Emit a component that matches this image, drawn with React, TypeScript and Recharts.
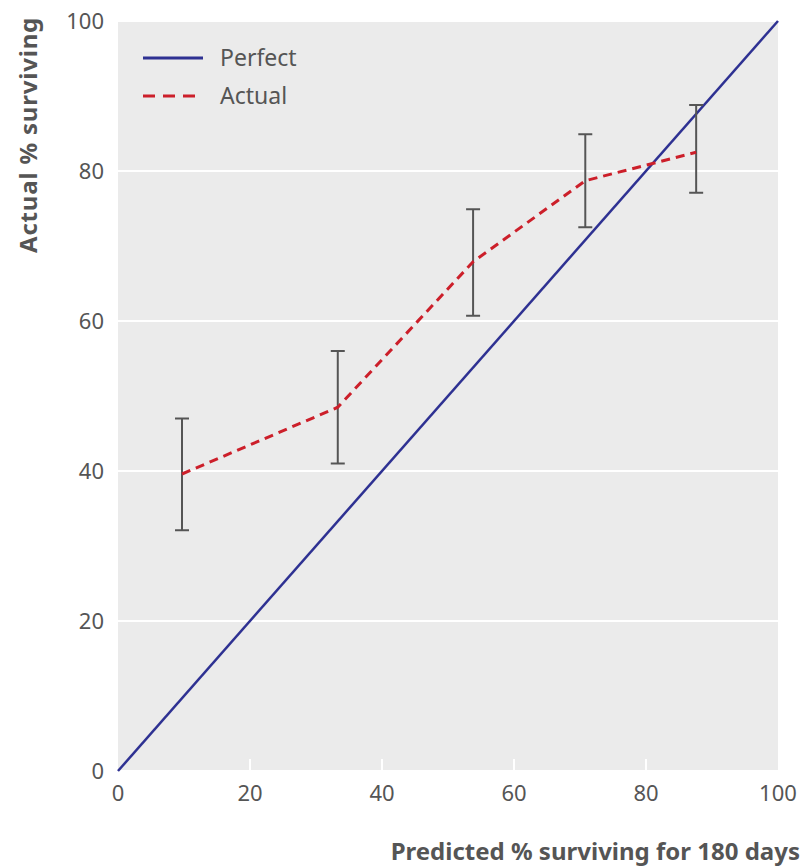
import React from 'react'
import {
  ComposedChart,
  Line,
  XAxis,
  YAxis,
  CartesianGrid,
  ErrorBar,
  Label,
} from 'recharts'

// Calibration: predicted vs actual % surviving for 180 days
const predicted = [9.7, 33.3, 53.8, 70.8, 87.6]
const actual = [39.6, 48.5, 67.9, 78.7, 82.5]
const ciLow = [32.1, 41.0, 60.7, 72.5, 77.1]
const ciHigh = [47.0, 56.0, 74.9, 84.9, 88.8]

const perfectX = [0, 100]
const perfectY = [0, 100]

const ticks = [0, 20, 40, 60, 80, 100]

const FONT = '"Noto Sans", sans-serif'
const BLUE = '#2e3192'
const RED = '#cc1f2a'
const GREY = '#555'

const actualData = predicted.map((x, i) => ({
  x,
  y: actual[i],
  err: [actual[i] - ciLow[i], ciHigh[i] - actual[i]],
}))

const perfectData = perfectX.map((x, i) => ({ x, y: perfectY[i] }))

const XTick = ({ x, y, payload }: any) => (
  <g>
    {payload.value > 0 && payload.value < 100 && (
      <line x1={x} x2={x} y1={y - 12} y2={y} stroke="#fff" strokeWidth={2} />
    )}
    <text x={x} y={y + 30} textAnchor="middle" fill={GREY} fontSize={22} fontFamily={FONT}>
      {payload.value}
    </text>
  </g>
)

// legend sits inside the plot, top-left
const LegendBox = () => (
  <svg
    width={200}
    height={80}
    style={{ position: 'absolute', left: 140, top: 40, fontFamily: FONT }}
  >
    <line x1={3} x2={63} y1={18} y2={18} stroke={BLUE} strokeWidth={3} />
    <text x={80} y={26} fontSize={23} fill={GREY}>Perfect</text>
    <line x1={3} x2={63} y1={56} y2={56} stroke={RED} strokeWidth={3} strokeDasharray="12 8" />
    <text x={80} y={64} fontSize={23} fill={GREY}>Actual</text>
  </svg>
)

export default function App() {
  return (
    <div style={{ position: 'absolute', left: 0, top: 0, width: 803, height: 867, background: '#fff' }}>
      <ComposedChart
        width={803}
        height={867}
        margin={{ top: 21, right: 25, bottom: 0, left: 0 }}
      >
        <CartesianGrid fill="#ebebeb" stroke="#fff" strokeWidth={2} vertical={false} />
        <XAxis
          type="number"
          dataKey="x"
          domain={[0, 100]}
          ticks={ticks}
          height={96}
          axisLine={false}
          tickLine={false}
          tickSize={0}
          tickMargin={0}
          tick={<XTick />}
          allowDuplicatedCategory={false}
        >
          <Label
            content={() => (
              <text
                x={800}
                y={860}
                textAnchor="end"
                fill={GREY}
                fontSize={24}
                fontWeight={700}
                fontFamily={FONT}
              >
                Predicted % surviving for 180 days
              </text>
            )}
          />
        </XAxis>
        <YAxis
          type="number"
          domain={[0, 100]}
          ticks={ticks}
          width={118}
          axisLine={false}
          tickLine={false}
          tickMargin={8}
          tick={{ fill: GREY, fontSize: 22, fontFamily: FONT }}
        >
          <Label
            content={() => (
              <text
                x={37}
                y={17}
                transform="rotate(-90, 37, 17)"
                textAnchor="end"
                fill={GREY}
                fontSize={24}
                fontWeight={700}
                fontFamily={FONT}
                letterSpacing={0.8}
              >
                Actual % surviving
              </text>
            )}
          />
        </YAxis>
        <Line
          data={perfectData}
          dataKey="y"
          type="linear"
          stroke={BLUE}
          strokeWidth={2.5}
          dot={false}
          activeDot={false}
          isAnimationActive={false}
        />
        <Line
          data={actualData}
          dataKey="y"
          type="linear"
          stroke={RED}
          strokeWidth={3}
          strokeDasharray="9 6"
          strokeLinejoin="round"
          dot={false}
          activeDot={false}
          isAnimationActive={false}
        >
          <ErrorBar dataKey="err" direction="y" width={7} stroke={GREY} strokeWidth={2} />
        </Line>
      </ComposedChart>
      <LegendBox />
    </div>
  )
}
